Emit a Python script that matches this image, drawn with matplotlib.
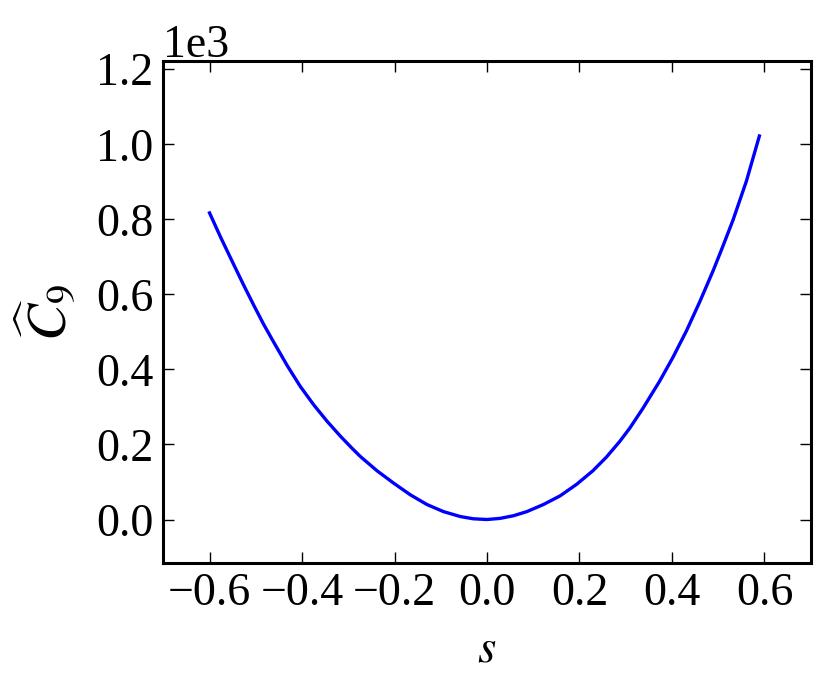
import numpy as np
import matplotlib
matplotlib.use("Agg")
import matplotlib.pyplot as plt

# values (s, C9 in units of 1)
s = [-0.600, -0.576, -0.548, -0.526, -0.504, -0.483, -0.461, -0.432,
     -0.404, -0.375, -0.346, -0.317, -0.292, -0.274, -0.238, -0.202,
     -0.166, -0.130, -0.094, -0.058, -0.030, 0.000, 0.028, 0.057,
     0.086, 0.122, 0.158, 0.194, 0.229, 0.258, 0.287, 0.309,
     0.337, 0.373, 0.402, 0.431, 0.460, 0.489, 0.510, 0.532,
     0.561, 0.589]
c9 = [817, 752, 680, 624, 570, 520, 472, 410,
      355, 306, 262, 222, 190, 168, 130, 97,
      66, 40, 21, 8, 2, 0, 3, 10,
      21, 40, 63, 94, 130, 166, 208, 244,
      296, 368, 432, 502, 580, 663, 728, 798,
      902, 1022]
xticks = [-0.6, -0.4, -0.2, 0.0, 0.2, 0.4, 0.6]
yticks = [0, 200, 400, 600, 800, 1000, 1200]

plt.rcParams['font.family'] = ['Liberation Serif', 'DejaVu Serif']
plt.rcParams['mathtext.fontset'] = 'stix'
plt.rcParams['axes.unicode_minus'] = True

fig = plt.figure(figsize=(8.32, 6.95), dpi=100)
ax = fig.add_axes([0.1963, 0.1904, 0.7781, 0.7219])
ax.plot(s, c9, color='blue', lw=2.4, solid_joinstyle='round')

ax.set_xlim(-0.7, 0.7)
ax.set_ylim(-115, 1222)
ax.set_xticks(xticks)
ax.set_yticks(yticks)
ax.ticklabel_format(axis='y', style='sci', scilimits=(0, 0), useMathText=False)
ax.yaxis.get_offset_text().set_fontsize(33)

ax.tick_params(direction='in', length=8, width=1, top=True, right=True,
               labelsize=33, pad=7)
for sp in ax.spines.values():
    sp.set_linewidth(2.2)

ax.set_xlabel(r'$s$', fontsize=34, labelpad=10)
ax.set_ylabel(r'$\widehat{C}_9$', fontsize=40, labelpad=12)

fig.savefig('out.png', dpi=100)
